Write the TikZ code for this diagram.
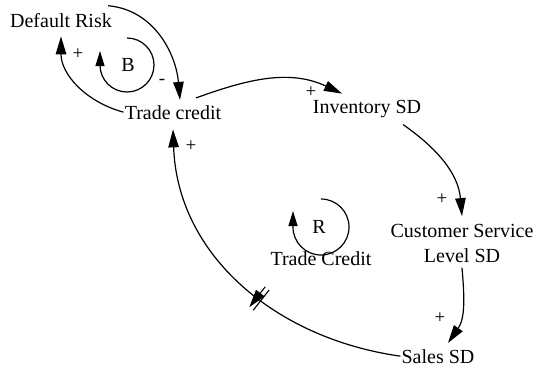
\documentclass[tikz,border=0pt]{standalone}
\usepackage{fontspec}
\setmainfont{Liberation Serif}
\usetikzlibrary{arrows.meta,decorations.markings}

\begin{document}
\begin{tikzpicture}[
    x=1bp, y=1bp,
    font=\fontsize{20bp}{25bp}\selectfont,
    var/.style={inner sep=1bp, align=center},
    link/.style={-{Triangle[length=18bp,width=10.5bp]}, line width=1.2bp},
    cyclearrow/.style={-{Triangle[length=15bp,width=9bp]}, line width=1.2bp},
    sign/.style={font=\fontsize{19bp}{19bp}\selectfont, inner sep=0pt},
    delaymark/.style={postaction={decorate, decoration={markings,
        mark=at position #1 with {\draw[line width=1.1bp] (-2.5,-13) -- (-2.5,13) (2.5,-13) -- (2.5,13);}}}}
]
    \useasboundingbox (0,0) rectangle (537,-368);

    % variables
    \node[var, anchor=base] (risk) at (61,-27) {Default Risk};
    \node[var, anchor=base] (credit) at (173,-119) {Trade credit};
    \node[var, anchor=base] (inv) at (367,-113) {Inventory SD};
    \node[var] (css) at (462,-243.5) {Customer Service\\Level SD};
    \node[var, anchor=base] (sales) at (438,-363) {Sales SD};

    % loops
    \node[var] (bal) at (128,-65) {B};
    \node[var] (rein) at (319,-227) {R};
    \node[var, anchor=base] (rname) at (321,-265) {Trade Credit};
    \draw[cyclearrow] (bal.center) ++(-1,27) arc[start angle=90, end angle=-180, radius=27] -- ++(0,14);
    \draw[cyclearrow] (rein.center) ++(2,28) arc[start angle=90, end angle=-180, radius=28] -- ++(0,16);

    % links
    \draw[link] ([shift={(-5,6)}]risk.north east) to[out=-5,in=95]
        node[sign, pos=1, shift={(-18,18)}] {-} ([shift={(7,4)}]credit.north);
    \draw[link] (credit.west) to[out=165,in=-90]
        node[sign, pos=1, shift={(17,-18)}] {+} ([yshift=-8]risk.south);
    \draw[link] ([shift={(23,6)}]credit.north) to[out=20,in=155]
        node[sign, pos=1, shift={(-31,1)}] {+} ([shift={(-25,5)}]inv.north);
    \draw[link] ([shift={(36,-6)}]inv.south) to[out=-35,in=95]
        node[sign, pos=1, shift={(-20,17)}] {+} ([yshift=7]css.north);
    \draw[link] ([yshift=-4]css.south) to[out=-85,in=55]
        node[sign, pos=1, shift={(-8,25)}] {+} ([shift={(10,5)}]sales.north);
    \draw[link, delaymark=0.44] (sales.west) to[out=172,in=-88]
        node[sign, pos=1, shift={(18,-17)}] {+} ([yshift=-9]credit.south);
\end{tikzpicture}
\end{document}
